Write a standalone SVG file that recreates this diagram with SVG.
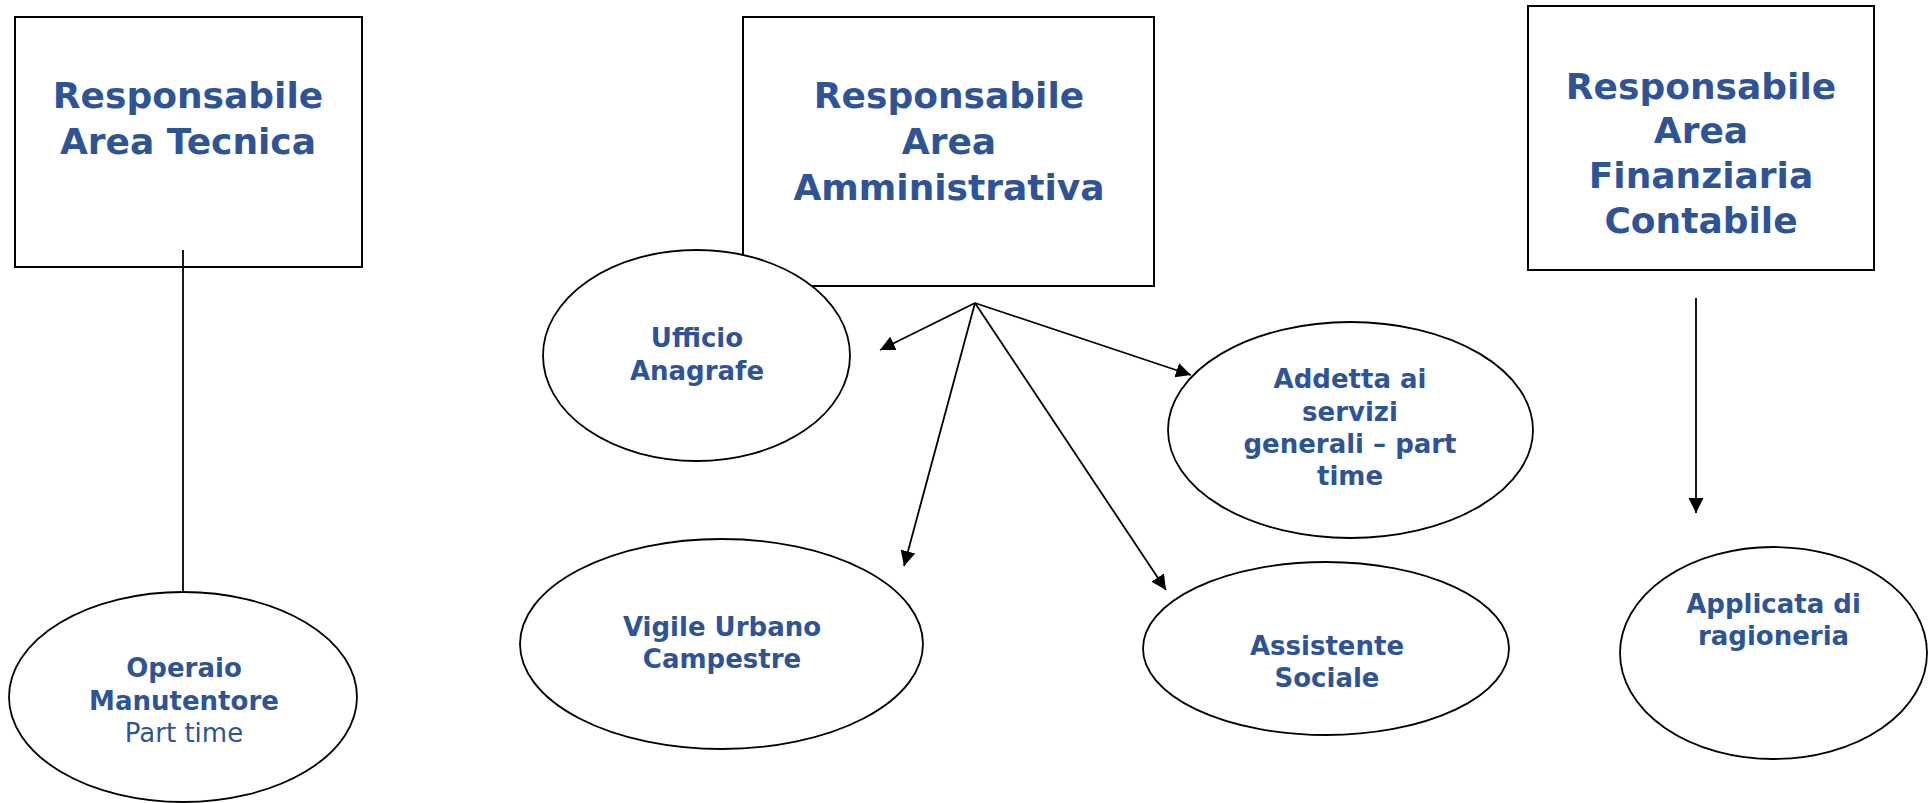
<svg xmlns="http://www.w3.org/2000/svg" width="1928" height="803" viewBox="0 0 1928 803">
<style>
.box{fill:#fff;stroke:#000;stroke-width:2}
.ell{fill:#fff;stroke:#000;stroke-width:1.8}
.t{font-family:"DejaVu Sans","Verdana",sans-serif;fill:#2E5496;text-anchor:middle;font-weight:bold}
.big{font-size:36px}
.sm{font-size:26px}
.reg{font-weight:normal}
.con{stroke:#000;stroke-width:1.8;fill:none}
</style>
<defs>
<marker id="ah" markerUnits="userSpaceOnUse" markerWidth="16" markerHeight="16" refX="15" refY="7.5" orient="auto">
<path d="M0,0 L15,7.5 L0,15 z" fill="#000"/>
</marker>
</defs>
<g id="box-tecnica">
<rect class="box" x="15" y="17" width="347" height="250"/>
<text class="t big" x="188" y="108">Responsabile</text>
<text class="t big" x="188" y="154">Area Tecnica</text>
</g>
<g id="box-amministrativa">
<rect class="box" x="743" y="17" width="411" height="269"/>
<text class="t big" x="949" y="108">Responsabile</text>
<text class="t big" x="949" y="154">Area</text>
<text class="t big" x="949" y="200">Amministrativa</text>
</g>
<g id="box-finanziaria">
<rect class="box" x="1528" y="6" width="346" height="264"/>
<text class="t big" x="1701" y="99">Responsabile</text>
<text class="t big" x="1701" y="143">Area</text>
<text class="t big" x="1701" y="188">Finanziaria</text>
<text class="t big" x="1701" y="233">Contabile</text>
</g>
<g id="connectors">
<line class="con" x1="183" y1="250" x2="183" y2="592"/>
<line class="con" x1="975" y1="303" x2="880" y2="350" marker-end="url(#ah)"/>
<line class="con" x1="975" y1="303" x2="904" y2="566" marker-end="url(#ah)"/>
<line class="con" x1="975" y1="303" x2="1166" y2="590" marker-end="url(#ah)"/>
<line class="con" x1="975" y1="303" x2="1191" y2="375" marker-end="url(#ah)"/>
<line class="con" x1="1696" y1="298" x2="1696" y2="513" marker-end="url(#ah)"/>
</g>
<g id="ufficio-anagrafe">
<ellipse class="ell" cx="696.5" cy="355.5" rx="153.5" ry="105.5"/>
<text class="t sm" x="697" y="347">Ufficio</text>
<text class="t sm" x="697" y="380">Anagrafe</text>
</g>
<g id="operaio">
<ellipse class="ell" cx="183" cy="697" rx="174" ry="105"/>
<text class="t sm" x="184" y="677">Operaio</text>
<text class="t sm" x="184" y="710">Manutentore</text>
<text class="t sm reg" x="184" y="742">Part time</text>
</g>
<g id="vigile">
<ellipse class="ell" cx="721.5" cy="644" rx="201.5" ry="105"/>
<text class="t sm" x="722" y="636">Vigile Urbano</text>
<text class="t sm" x="722" y="668">Campestre</text>
</g>
<g id="addetta">
<ellipse class="ell" cx="1350.5" cy="430" rx="182.5" ry="108"/>
<text class="t sm" x="1350" y="388">Addetta ai</text>
<text class="t sm" x="1350" y="421">servizi</text>
<text class="t sm" x="1350" y="453">generali – part</text>
<text class="t sm" x="1350" y="485">time</text>
</g>
<g id="assistente">
<ellipse class="ell" cx="1326" cy="648.5" rx="183" ry="86.5"/>
<text class="t sm" x="1327" y="655">Assistente</text>
<text class="t sm" x="1327" y="687">Sociale</text>
</g>
<g id="applicata">
<ellipse class="ell" cx="1773.5" cy="653" rx="153.5" ry="106"/>
<text class="t sm" x="1773.5" y="613">Applicata di</text>
<text class="t sm" x="1773.5" y="645">ragioneria</text>
</g>
</svg>
